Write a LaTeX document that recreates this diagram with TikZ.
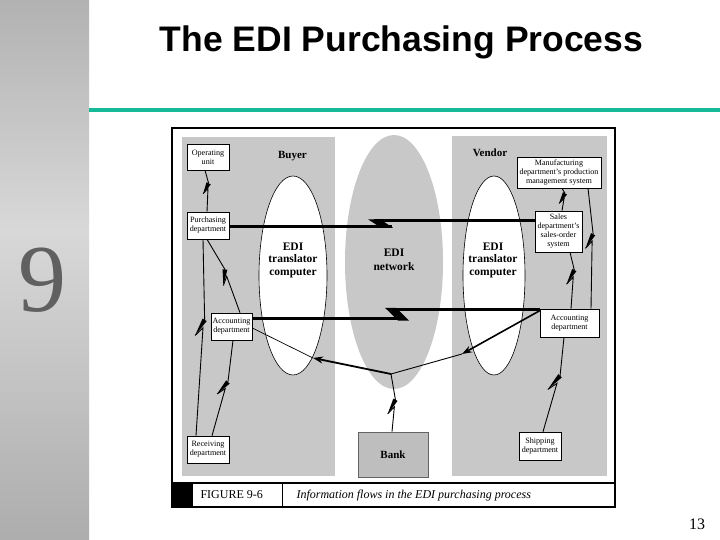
\documentclass[tikz,border=0pt]{standalone}
\usepackage{fontspec}
\setmainfont{Liberation Serif}
\newfontfamily\titlefont{Liberation Sans}
\usetikzlibrary{calc,arrows.meta,shapes.geometric}
\definecolor{panelgray}{RGB}{200,200,200}
\definecolor{tealline}{RGB}{22,186,150}
\definecolor{ninegray}{RGB}{96,96,96}
\definecolor{bankgray}{RGB}{190,190,190}
\definecolor{bankborder}{RGB}{100,100,100}
\definecolor{bartop}{RGB}{178,178,178}
\definecolor{barmid}{RGB}{216,216,216}
\definecolor{barbot}{RGB}{173,173,173}
\tikzset{
  box/.style={draw=black, fill=white, line width=0.6pt, inner sep=0pt, align=center,
    font=\fontsize{8.1}{9}\selectfont},
  zapline/.style={line width=0.9pt},
  thk/.style={line width=2.4pt},
  lbl/.style={font=\bfseries\fontsize{11.5}{12.5}\selectfont, align=center},
  oval/.style={ellipse, inner sep=0pt},
  tip/.style={-{Stealth[length=10pt,width=7pt]}},
}
% lightning connector: #1 pos, #2 start, #3 end, #4 half length, #5 half width
\newcommand{\zap}[5]{%
  \coordinate (zm) at ($(#2)!#1!(#3)$);
  \coordinate (za) at ($(zm)!#4pt!(#2)$);
  \coordinate (zb) at ($(zm)!#4pt!(#3)$);
  \coordinate (zp) at ($(za)!#5pt!90:(zb)$);
  \coordinate (zq) at ($(zb)!#5pt!90:(za)$);
  \coordinate (zr) at ($(zm)!#5pt!90:(zb)$);
  \coordinate (zs) at ($(zm)!0.7!(zr)$);
  \draw[zapline] (#2) -- (zp);
  \draw[zapline, line join=miter] (zq) -- (zs) -- (#3);
  \fill ($(zp)!2.4pt!90:(zq)$) -- ($(zp)!2.4pt!-90:(zq)$) -- (zq) -- cycle;
}
\begin{document}
\begin{tikzpicture}[x=1pt,y=-1pt]
\useasboundingbox (0,0) rectangle (720,540);
\fill[white] (0,0) rectangle (720,540);
% left bar
\shade[top color=bartop, bottom color=barmid] (0,0) rectangle (89,230);
\shade[top color=barmid, bottom color=barbot] (0,229.5) rectangle (89,540);
% title
\node[font=\titlefont\bfseries\fontsize{35.5}{40}\selectfont, anchor=base] (title) at (401.5,52) {The EDI Purchasing Process};
\draw[tealline, line width=3.5pt] (89,110) -- (720,110);
\node[font=\fontsize{96}{100}\selectfont, text=ninegray, anchor=base] (chap) at (43,311) {9};
\node[font=\fontsize{16}{18}\selectfont, anchor=base] (pg) at (697,529) {13};

% figure panels
\fill[panelgray] (182,137) rectangle (335,476);
\fill[panelgray] (452,136) rectangle (607,476);
\node[oval, fill=panelgray, minimum width=98, minimum height=254] (net) at (394,262) {};
\node[oval, draw=black, fill=white, line width=0.6pt, minimum width=68, minimum height=199] (bedi) at (293,275.5) {};
\node[oval, draw=black, fill=white, line width=0.6pt, minimum width=62, minimum height=199] (vedi) at (494,275.5) {};

\node[font=\bfseries\fontsize{11}{12}\selectfont, anchor=base] (buyer) at (292.5,159) {Buyer};
\node[font=\bfseries\fontsize{11}{12}\selectfont, anchor=base] (vendor) at (490,157) {Vendor};
\node[lbl] (btxt) at (293,260) {EDI\\translator\\computer};
\node[lbl] (vtxt) at (493,260) {EDI\\translator\\computer};
\node[lbl, font=\bfseries\fontsize{11.5}{14}\selectfont] (ntxt) at (394,260) {EDI\\network};

% boxes
\node[box, minimum width=42, minimum height=26] (op) at (208,157) {Operating\\unit};
\node[box, minimum width=42, minimum height=27] (purch) at (208,225.5) {Purchasing\\department};
\node[box, minimum width=41, minimum height=27] (bacc) at (231.5,326.5) {Accounting\\department};
\node[box, minimum width=42, minimum height=27] (recv) at (208,449.5) {Receiving\\department};
\node[box, minimum width=84, minimum height=31] (mfg) at (559,172.5) {Manufacturing\\department's production\\management system};
\node[box, minimum width=47, minimum height=41] (sales) at (558.5,231.5) {Sales\\department's\\sales-order\\system};
\node[box, minimum width=59, minimum height=28] (vacc) at (569.5,323) {Accounting\\department};
\node[box, minimum width=42, minimum height=28] (ship) at (540,446) {Shipping\\department};
\node[draw=bankborder, fill=bankgray, line width=0.8pt, minimum width=70, minimum height=45,
  font=\bfseries\fontsize{11}{12}\selectfont] (bank) at (393,454.5) {Bank};

% lightning connectors
\coordinate (a1) at ($(op.south)+(-3,0)$);   \coordinate (b1) at ($(purch.north)+(-1,0)$);
\zap{0.44}{a1}{b1}{5}{3}
\coordinate (a2) at ($(purch.south)+(-1,0)$); \coordinate (b2) at ($(bacc.north)+(8.5,0)$);
\zap{0.52}{a2}{b2}{7}{4}
\coordinate (a3) at ($(purch.south)+(-5,0)$); \coordinate (b3) at ($(recv.north)+(-12,0)$);
\zap{0.45}{a3}{b3}{8}{4.5}
\coordinate (a4) at ($(bacc.south)+(1.5,0)$); \coordinate (b4) at ($(recv.north)+(4,0)$);
\zap{0.5}{a4}{b4}{7}{4}
\coordinate (a5) at ($(mfg.south)+(3,0)$);    \coordinate (b5) at ($(sales.north)+(3.5,0)$);
\zap{0.45}{a5}{b5}{5}{3}
\coordinate (a6) at ($(mfg.south)+(29,0)$);   \coordinate (b6) at ($(vacc.north)+(21.5,0)$);
\zap{0.44}{a6}{b6}{7}{4}
\coordinate (a7) at ($(sales.south)+(11.5,0)$); \coordinate (b7) at ($(vacc.north)+(1.5,0)$);
\zap{0.44}{a7}{b7}{7}{4}
\coordinate (a8) at ($(vacc.south)+(-5.5,0)$); \coordinate (b8) at ($(ship.north)+(3,0)$);
\zap{0.48}{a8}{b8}{8}{4.5}
\coordinate (J) at (391,374);
\coordinate (b9) at ($(bank.north)+(-1,0)$);
\zap{0.57}{J}{b9}{7}{4}

% thick bolts through the EDI network
\coordinate (u1) at (392,226.6);
\coordinate (u2) at (374,220.5);
\draw[thk] (purch.east |- u1) -- (u1);
\draw[thk] (u2) -- (sales.west |- u2);
\fill (368,219.3) -- (380,219.3) -- (393,227.8) -- (381,227.8) -- cycle;
\coordinate (l1) at (404,318.6);
\coordinate (l2) at (390,309.5);
\draw[thk] (bacc.east |- l1) -- (l1);
\draw[thk] (l2) -- (vacc.west |- l2);
\fill (385,307.8) -- (396,307.8) -- (409,320.5) -- (398,320.5) -- cycle;

% bank branches
\coordinate (T1) at (313,358);
\coordinate (T2) at (462,354);
\draw[line width=0.7pt] ($(bacc.east)+(0,1.5)$) -- (T1);
\draw[line width=1.8pt, tip] (J) -- (T1);
\draw[line width=0.9pt] (J) -- (T2);
\draw[line width=1.6pt, tip] ($(vacc.north west)+(0,2)$) -- (T2);

% frame and caption
\draw[line width=1.6pt] (172,128) rectangle (615,507);
\draw[line width=2pt] (172,483) -- (615,483);
\fill (172,483) rectangle (193,507);
\draw[line width=0.8pt] (282,483) -- (282,507);
\node[anchor=base west, font=\fontsize{12}{14}\selectfont] (fig) at (197,498) {FIGURE 9-6};
\node[anchor=base west, font=\itshape\fontsize{12}{14}\selectfont] (cap) at (293,498) {Information flows in the EDI purchasing process};
\end{tikzpicture}
\end{document}
